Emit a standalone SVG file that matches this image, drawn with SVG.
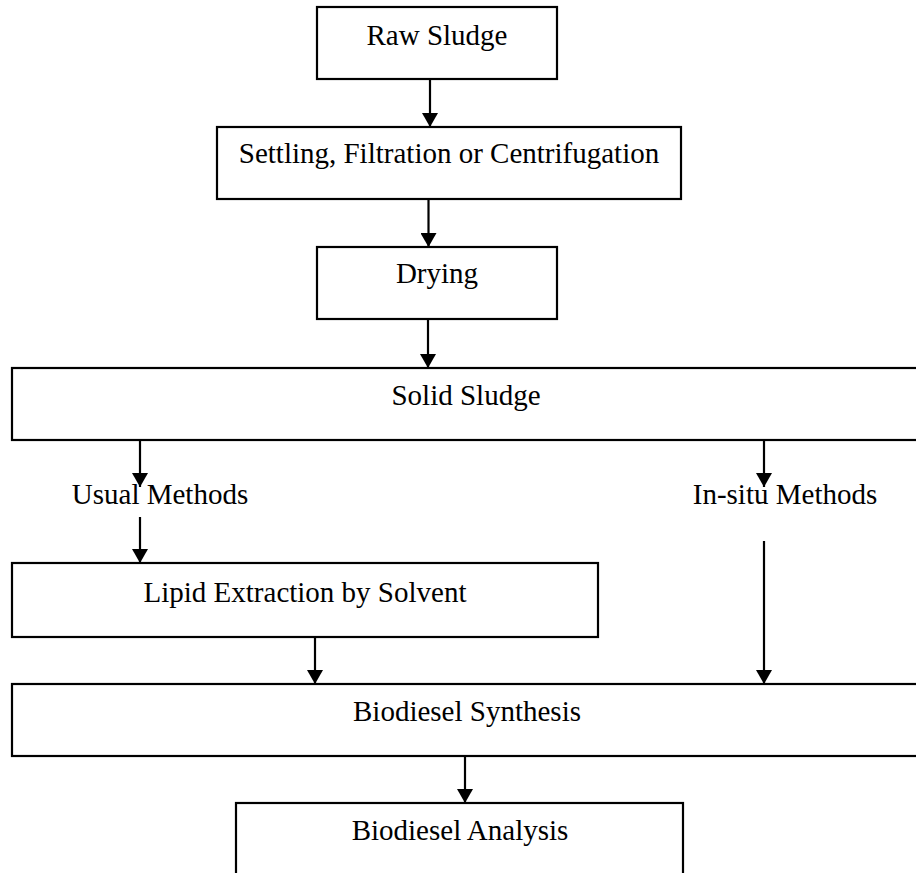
<svg xmlns="http://www.w3.org/2000/svg" width="916" height="873" viewBox="0 0 916 873">
<style>
.box{fill:#fff;stroke:#000;stroke-width:2.2}
.lbl{font-family:"Liberation Serif","Times New Roman",serif;font-size:29px;fill:#000;text-anchor:middle}
.con line{stroke:#000;stroke-width:2.2}
</style>
<defs>
<marker id="ah" markerUnits="userSpaceOnUse" markerWidth="16" markerHeight="16" viewBox="0 0 16 16" refX="8" refY="15" orient="0">
<polygon points="0,1 16,1 8,15" fill="#000"/>
</marker>
</defs>
<rect width="916" height="873" fill="#fff"/>
<g id="raw-sludge"><rect class="box" x="317" y="7" width="240" height="72"/><text class="lbl" x="437" y="45">Raw Sludge</text></g>
<g id="settling"><rect class="box" x="217" y="127" width="464" height="72"/><text class="lbl" x="449" y="163">Settling, Filtration or Centrifugation</text></g>
<g id="drying"><rect class="box" x="317" y="247" width="240" height="72"/><text class="lbl" x="437" y="283">Drying</text></g>
<g id="solid-sludge"><rect class="box" x="12" y="368" width="930" height="72"/><text class="lbl" x="466" y="405">Solid Sludge</text></g>
<g id="usual-methods"><text class="lbl" x="160" y="504">Usual Methods</text></g>
<g id="insitu-methods"><text class="lbl" x="785" y="504">In-situ Methods</text></g>
<g id="lipid-extraction"><rect class="box" x="12" y="563" width="586" height="74"/><text class="lbl" x="305" y="602">Lipid Extraction by Solvent</text></g>
<g id="biodiesel-synthesis"><rect class="box" x="12" y="684" width="930" height="72"/><text class="lbl" x="467" y="721">Biodiesel Synthesis</text></g>
<g id="biodiesel-analysis"><rect class="box" x="236" y="803" width="447" height="100"/><text class="lbl" x="460" y="840">Biodiesel Analysis</text></g>
<g class="con" id="connectors">
<line x1="430" y1="79" x2="430" y2="127" marker-end="url(#ah)"/>
<line x1="428.5" y1="199" x2="428.5" y2="247" marker-end="url(#ah)"/>
<line x1="428" y1="319" x2="428" y2="368" marker-end="url(#ah)"/>
<line x1="140" y1="440" x2="140" y2="487" marker-end="url(#ah)"/>
<line x1="140" y1="517" x2="140" y2="563" marker-end="url(#ah)"/>
<line x1="764" y1="440" x2="764" y2="487" marker-end="url(#ah)"/>
<line x1="764" y1="541" x2="764" y2="684" marker-end="url(#ah)"/>
<line x1="315" y1="637" x2="315" y2="684" marker-end="url(#ah)"/>
<line x1="465" y1="756" x2="465" y2="803" marker-end="url(#ah)"/>
</g>
</svg>
